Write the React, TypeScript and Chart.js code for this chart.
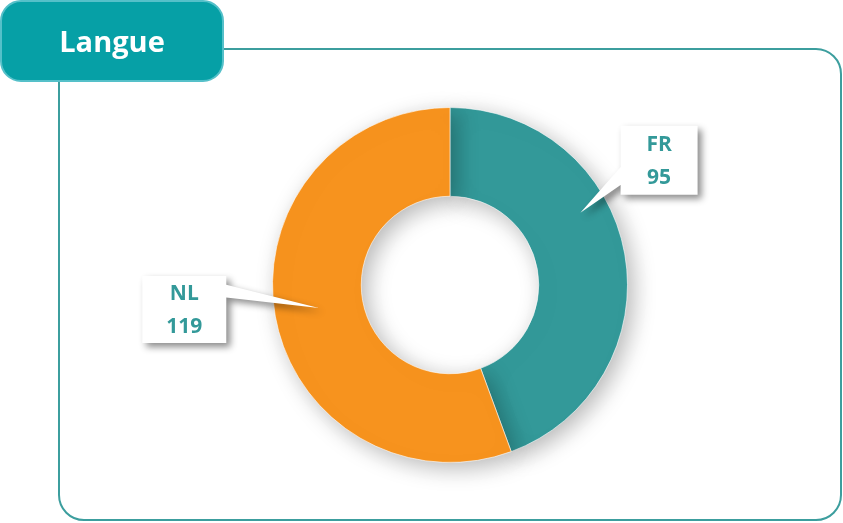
import { useEffect, useRef } from "react";
import { Chart, registerables } from "chart.js";

Chart.register(...registerables);

const TITLE = "Langue";
const categories = ["FR", "NL"];
const values = [95, 119];
const sliceColors = ["#339999", "#F7931E"];

// Callout layout (relative to donut centre, in units of the outer radius)
const CALLOUTS = [
  { tipAngle: 61, tipR: 0.84, cx: 1.178, cy: -0.703, w: 77, h: 69, side: "left", base: [0.6, 0.86] },
  { tipAngle: 260, tipR: 0.75, cx: -1.497, cy: 0.138, w: 84, h: 67, side: "right", base: [0.13, 0.32] },
];

const FONT = "'Open Sans', Lato, sans-serif";

function roundRect(ctx: CanvasRenderingContext2D, x: number, y: number, w: number, h: number, r: number) {
  ctx.beginPath();
  ctx.moveTo(x + r, y);
  ctx.lineTo(x + w - r, y);
  ctx.arcTo(x + w, y, x + w, y + r, r);
  ctx.lineTo(x + w, y + h - r);
  ctx.arcTo(x + w, y + h, x + w - r, y + h, r);
  ctx.lineTo(x + r, y + h);
  ctx.arcTo(x, y + h, x, y + h - r, r);
  ctx.lineTo(x, y + r);
  ctx.arcTo(x, y, x + r, y, r);
  ctx.closePath();
}

const framePlugin = {
  id: "frame",
  beforeDraw(chart: any) {
    const ctx = chart.ctx as CanvasRenderingContext2D;
    ctx.save();
    ctx.fillStyle = "#ffffff";
    ctx.fillRect(0, 0, chart.width, chart.height);
    roundRect(ctx, 59, 49, 782, 471, 25);
    ctx.strokeStyle = "#3C9E9E";
    ctx.lineWidth = 2;
    ctx.stroke();
    roundRect(ctx, 1, 1, 222, 80, 20);
    ctx.fillStyle = "#06A0A6";
    ctx.fill();
    ctx.strokeStyle = "#55C0C9";
    ctx.lineWidth = 2;
    ctx.stroke();
    ctx.fillStyle = "#ffffff";
    ctx.font = `bold 29px ${FONT}`;
    ctx.textAlign = "center";
    ctx.textBaseline = "middle";
    ctx.fillText(TITLE, 112, 44);
    ctx.restore();
  },
};

const shadowPlugin = {
  id: "arcShadow",
  beforeDatasetsDraw(chart: any) {
    const ctx = chart.ctx as CanvasRenderingContext2D;
    ctx.save();
    ctx.shadowColor = "rgba(0,0,0,0.28)";
    ctx.shadowBlur = 22;
    ctx.shadowOffsetX = 6;
    ctx.shadowOffsetY = 6;
  },
  afterDatasetsDraw(chart: any) {
    chart.ctx.restore();
  },
};

const calloutPlugin = {
  id: "callouts",
  afterDraw(chart: any) {
    const ctx = chart.ctx as CanvasRenderingContext2D;
    const meta = chart.getDatasetMeta(0);
    meta.data.forEach((arc: any, i: number) => {
      const c = CALLOUTS[i];
      if (!c) return;
      const R = arc.outerRadius;
      const a = (c.tipAngle * Math.PI) / 180;
      const tx = arc.x + Math.sin(a) * R * c.tipR;
      const ty = arc.y - Math.cos(a) * R * c.tipR;
      const bx = arc.x + c.cx * R - c.w / 2;
      const by = arc.y + c.cy * R - c.h / 2;
      const b0 = by + c.base[0] * c.h;
      const b1 = by + c.base[1] * c.h;
      ctx.save();
      ctx.beginPath();
      if (c.side === "left") {
        ctx.moveTo(bx, by);
        ctx.lineTo(bx + c.w, by);
        ctx.lineTo(bx + c.w, by + c.h);
        ctx.lineTo(bx, by + c.h);
        ctx.lineTo(bx, b1);
        ctx.lineTo(tx, ty);
        ctx.lineTo(bx, b0);
      } else {
        ctx.moveTo(bx, by);
        ctx.lineTo(bx + c.w, by);
        ctx.lineTo(bx + c.w, b0);
        ctx.lineTo(tx, ty);
        ctx.lineTo(bx + c.w, b1);
        ctx.lineTo(bx + c.w, by + c.h);
        ctx.lineTo(bx, by + c.h);
      }
      ctx.closePath();
      ctx.shadowColor = "rgba(0,0,0,0.45)";
      ctx.shadowBlur = 7;
      ctx.shadowOffsetX = 4;
      ctx.shadowOffsetY = 4;
      ctx.fillStyle = "#ffffff";
      ctx.fill();
      ctx.restore();

      ctx.save();
      ctx.fillStyle = "#339999";
      ctx.font = `bold 21px ${FONT}`;
      ctx.textAlign = "center";
      ctx.textBaseline = "middle";
      const mx = bx + c.w / 2;
      const my = by + c.h / 2;
      ctx.fillText(categories[i], mx, my - 15);
      ctx.fillText(String(values[i]), mx, my + 18);
      ctx.restore();
    });
  },
};

export default function App() {
  const ref = useRef<HTMLCanvasElement | null>(null);
  useEffect(() => {
    document.body.style.margin = "0";
    if (!ref.current) return;
    const chart = new Chart(ref.current, {
      type: "doughnut",
      data: {
        labels: categories,
        datasets: [
          {
            data: values,
            backgroundColor: sliceColors,
            borderColor: "rgba(255,255,255,0.6)",
            borderWidth: 1,
          },
        ],
      },
      options: {
        responsive: false,
        animation: false,
        cutout: "50%",
        layout: { padding: { left: 272, right: 215, top: 107, bottom: 60 } },
        plugins: {
          legend: { display: false },
          tooltip: { enabled: false },
          title: { display: false },
        },
      },
      plugins: [framePlugin, shadowPlugin, calloutPlugin],
    });
    return () => chart.destroy();
  }, []);
  return (
    <div style={{ width: 843, height: 523 }}>
      <canvas ref={ref} width={843} height={523} style={{ display: "block" }} />
    </div>
  );
}
